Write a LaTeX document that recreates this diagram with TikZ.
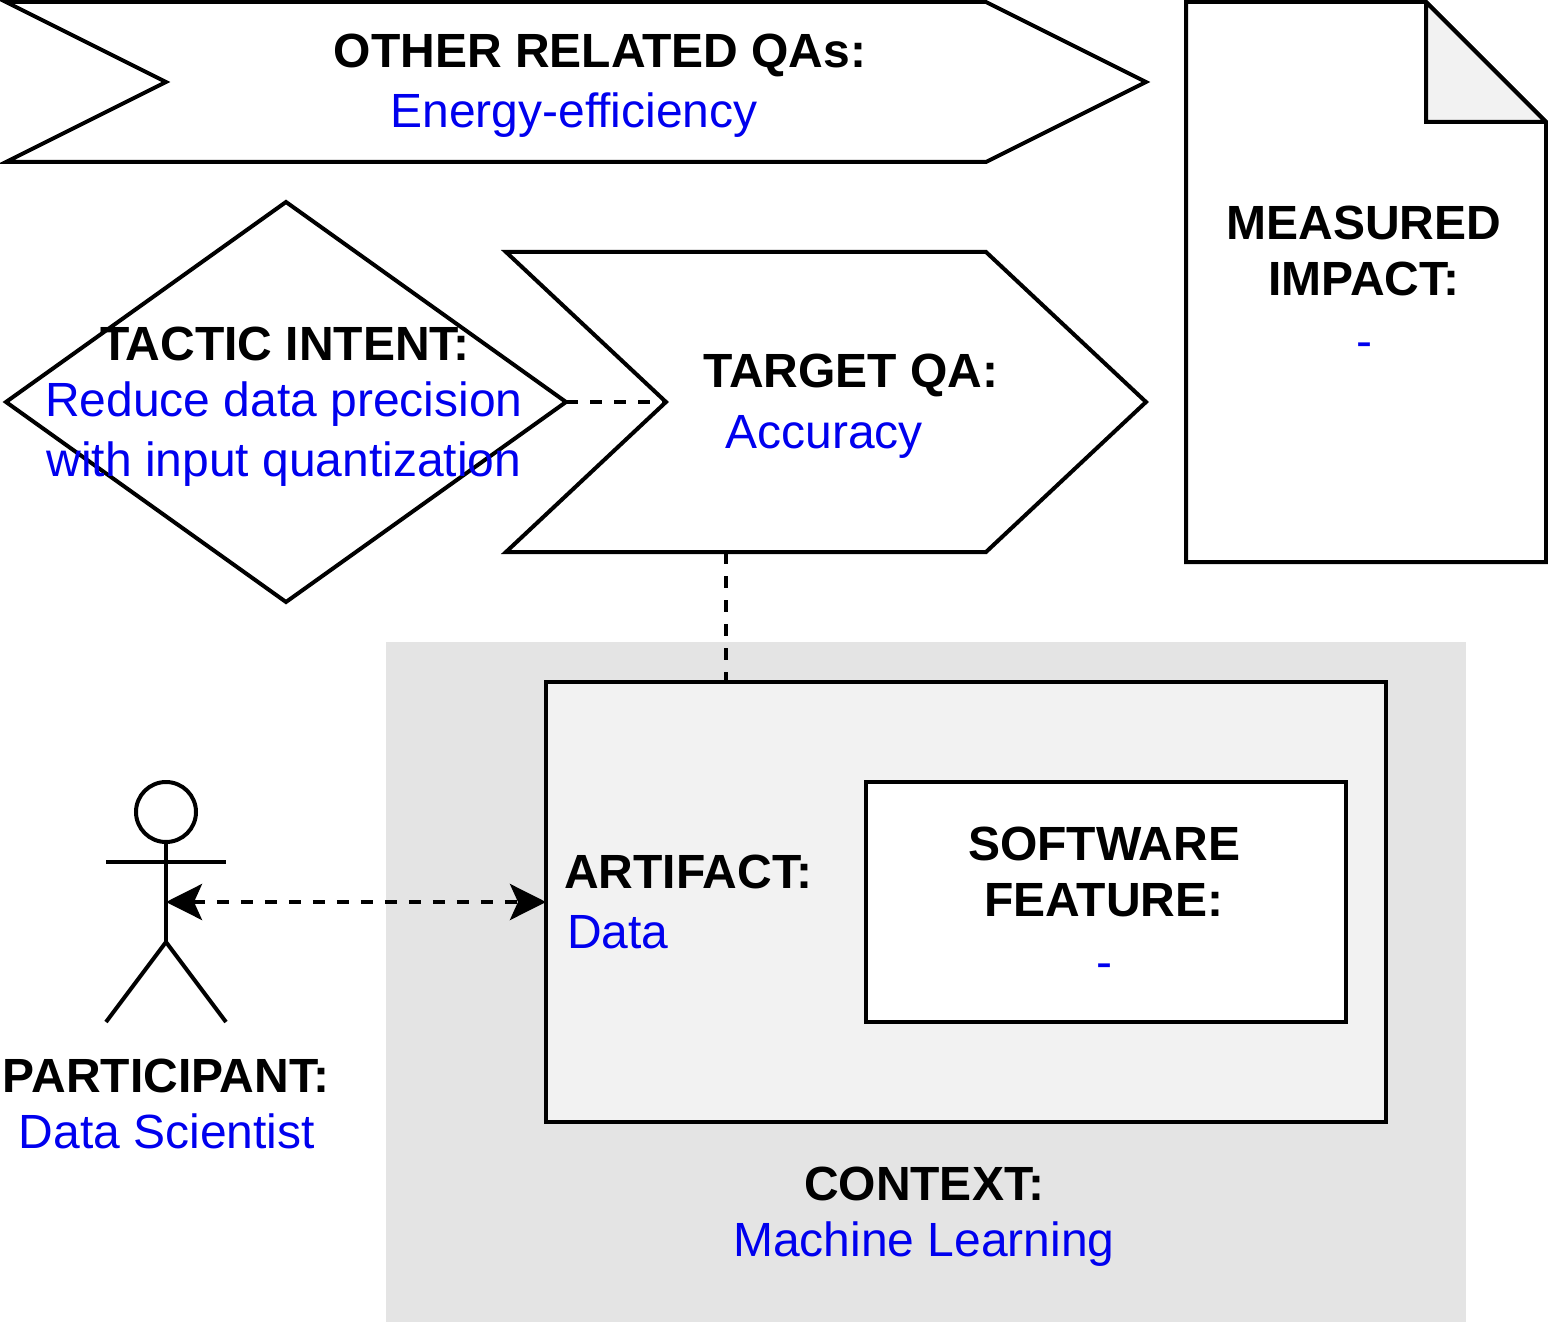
\documentclass[tikz,border=0pt]{standalone}
\usepackage{fontspec}
\setmainfont{Liberation Sans}
\usetikzlibrary{arrows.meta,shapes.geometric}
\definecolor{qablue}{RGB}{0,0,238}
\definecolor{ctxgray}{RGB}{228,228,228}
\definecolor{panel}{RGB}{242,242,242}
\tikzset{
  x=1pt,y=-1pt,
  outline/.style={draw=black,line width=4pt,line join=miter,miter limit=10},
  boxnode/.style={outline,rectangle,inner sep=0pt,outer sep=0pt},
  link/.style={draw=black,line width=4pt,dash pattern=on 12pt off 12pt},
  shortlink/.style={draw=black,line width=4pt,dash pattern=on 12pt off 12pt},
  txt/.style={inner sep=0pt,anchor=base,font=\fontsize{48}{56}\selectfont},
  head/.style={inner sep=0pt,anchor=base,font=\fontsize{48}{56}\selectfont\bfseries},
  val/.style={txt,text=qablue},
  tipped/.style={{Stealth[length=36pt,width=36pt,inset=8pt]}-{Stealth[length=36pt,width=36pt,inset=8pt]}}
}
\begin{document}
\begin{tikzpicture}
\useasboundingbox (0,0) rectangle (1548,1324);
% context and artifact
\node[rectangle,fill=ctxgray,inner sep=0pt,outer sep=0pt,minimum width=1080pt,minimum height=680pt,anchor=north west] (context) at (386,642) {};
\node[boxnode,fill=panel,minimum width=840pt,minimum height=440pt,anchor=north west] (artifact) at (546,682) {};
\node[boxnode,fill=white,minimum width=480pt,minimum height=240pt,anchor=north west] (feature) at (866,782) {};
% other related QAs
\draw[outline] (6,2) -- (986,2) -- (1146,82) -- (986,162) -- (6,162) -- (166,82) -- cycle;
% target QA
\coordinate (targetnotch) at (666,402);
\coordinate (targetbottom) at (726,552);
\draw[outline] (506,252) -- (986,252) -- (1146,402) -- (986,552) -- (506,552) -- (targetnotch) -- cycle;
% tactic
\node[outline,diamond,aspect=1.4,inner sep=0pt,outer sep=0pt,minimum width=560pt,minimum height=400pt] (tactic) at (286,402) {};
% measured impact document
\draw[outline] (1186,2) -- (1426,2) -- (1546,122) -- (1546,562) -- (1186,562) -- cycle;
\draw[outline,fill=panel] (1426,2) -- (1546,122) -- (1426,122) -- cycle;
% participant
\node[outline,circle,inner sep=0pt,outer sep=0pt,minimum size=60pt] (head) at (166,812) {};
\coordinate (hip) at (166,942);
\coordinate (chest) at (166,902);
\draw[outline] (head.south) -- (hip);
\draw[outline] (106,862) -- (226,862);
\draw[outline] (106,1022) -- (hip) -- (226,1022);
% connectors
\draw[shortlink] (tactic.east) -- (targetnotch);
\draw[shortlink] (targetbottom) -- (artifact.north -| targetbottom);
\draw[link,tipped] (chest) -- (artifact.west);
% text
\node[head] (t1) at (600,68) {OTHER RELATED QAs:};
\node[val] (v1) at (574,128) {Energy-efficiency};
\node[head] (t2) at (285,360) {TACTIC INTENT:};
\node[val] (v2) at (284,416) {Reduce data precision};
\node[val] (v2b) at (284,476) {with input quantization};
\node[head] (t3) at (851,388) {TARGET QA:};
\node[val] (v3) at (824,448) {Accuracy};
\node[head] (t4) at (1364,240) {MEASURED};
\node[head] (t4b) at (1364,296) {IMPACT:};
\node[val] (v4) at (1364,358) {-};
\node[head,anchor=base west] (t5) at (564,888) {ARTIFACT:};
\node[val,anchor=base west] (v5) at (567,948) {Data};
\node[head] (t6) at (1104,860) {SOFTWARE};
\node[head] (t6b) at (1104,916) {FEATURE:};
\node[val] (v6) at (1104,978) {-};
\node[head] (t7) at (166,1092) {PARTICIPANT:};
\node[val] (v7) at (167,1148) {Data Scientist};
\node[head] (t8) at (924,1200) {CONTEXT:};
\node[val] (v8) at (924,1256) {Machine Learning};
\end{tikzpicture}
\end{document}
